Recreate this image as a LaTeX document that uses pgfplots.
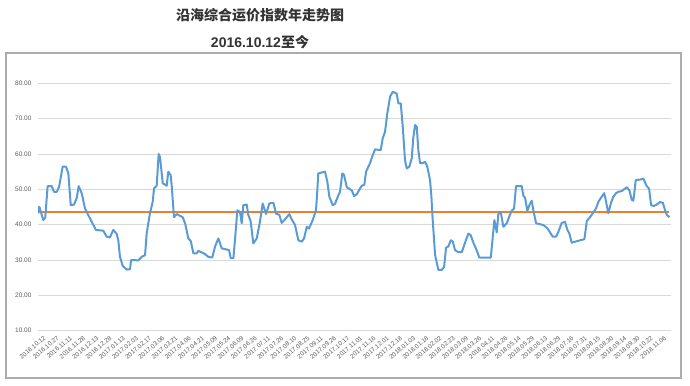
\documentclass[border=0pt]{standalone}
\usepackage{pgfplots}
\pgfplotsset{compat=1.18}
\usepackage{pgfplotstable}
\usepackage{fontspec}
\setmainfont{Liberation Sans}
\newfontfamily\cjk{Noto Sans CJK SC}
\definecolor{lineblue}{RGB}{91,155,213}
\definecolor{meanorange}{RGB}{237,125,49}
\definecolor{gridgray}{RGB}{217,217,217}
\definecolor{labgray}{RGB}{89,89,89}
\definecolor{titlegray}{RGB}{51,51,51}

\pgfplotstableread{
x v
0.00 43.2
0.10 45.1
0.40 41.3
0.55 42.0
0.73 50.9
1.04 50.9
1.21 49.3
1.42 49.3
1.59 50.6
1.87 56.4
2.12 56.4
2.30 54.5
2.48 45.5
2.73 45.7
2.93 47.5
3.08 50.9
3.31 48.9
3.56 44.6
3.81 42.7
4.07 40.8
4.39 38.5
4.95 38.3
5.20 36.6
5.45 36.4
5.70 38.5
5.96 37.4
6.08 35.6
6.21 30.9
6.42 28.3
6.72 27.3
6.97 27.4
7.05 30.0
7.60 29.9
7.86 30.9
8.11 31.4
8.23 37.5
8.48 43.2
8.69 46.5
8.79 50.3
8.99 51.0
9.14 60.0
9.24 59.2
9.45 51.7
9.75 51.0
9.87 55.0
10.05 54.0
10.13 51.0
10.30 42.1
10.51 43.0
10.96 42.1
11.14 40.4
11.39 36.1
11.57 35.4
11.77 31.9
12.02 31.9
12.14 32.6
12.65 31.7
12.90 30.9
13.20 30.7
13.41 33.8
13.66 36.1
13.92 33.3
14.47 32.8
14.60 30.5
14.80 30.5
14.92 35.6
15.10 44.1
15.30 43.6
15.43 40.4
15.55 45.5
15.81 45.7
15.93 42.8
16.11 40.9
16.31 34.7
16.57 36.1
16.82 41.0
17.02 46.0
17.27 43.0
17.52 46.0
17.83 46.2
18.03 43.1
18.28 42.8
18.46 40.5
18.71 41.5
19.04 43.0
19.22 41.5
19.47 39.9
19.72 35.6
19.98 35.2
20.15 36.1
20.36 39.4
20.53 38.9
20.81 41.3
21.06 44.1
21.16 49.8
21.23 54.5
21.74 55.0
21.92 52.1
22.07 47.9
22.33 45.5
22.50 45.9
22.75 48.3
22.88 49.3
23.05 54.5
23.18 54.1
23.39 50.6
23.77 49.7
23.94 48.1
24.14 48.6
24.52 51.0
24.72 51.3
24.85 55.0
25.15 57.4
25.36 59.7
25.53 61.3
25.96 61.1
26.11 64.4
26.29 66.3
26.46 71.5
26.67 76.2
26.87 77.6
27.17 77.1
27.30 74.3
27.48 74.3
27.63 67.7
27.80 58.3
27.93 55.9
28.13 56.4
28.31 58.8
28.43 64.6
28.56 68.2
28.69 67.7
28.81 61.1
28.94 57.4
29.14 57.4
29.32 57.8
29.49 56.4
29.70 52.5
29.80 48.0
29.87 43.0
30.08 31.4
30.33 27.2
30.58 27.2
30.76 28.0
30.91 33.5
31.08 33.8
31.27 35.6
31.42 35.2
31.59 32.8
31.84 32.2
32.10 32.2
32.35 34.9
32.60 37.5
32.78 37.0
32.98 34.9
33.18 33.2
33.43 30.7
34.30 30.7
34.45 36.6
34.57 41.3
34.75 37.8
34.87 43.0
35.05 43.6
35.25 39.4
35.51 40.4
35.70 42.3
35.89 44.0
36.06 44.5
36.21 50.9
36.64 50.9
36.77 48.1
36.89 47.7
37.07 43.9
37.22 45.5
37.40 46.8
37.52 44.1
37.73 40.4
38.28 39.9
38.58 39.0
38.79 37.8
38.99 36.6
39.24 36.6
39.42 38.0
39.67 40.5
39.92 40.8
40.10 38.5
40.25 37.5
40.43 34.9
40.89 35.4
41.39 35.9
41.57 41.0
41.77 41.9
42.02 43.2
42.27 44.6
42.45 46.5
42.70 47.9
42.88 48.9
42.98 47.5
43.20 43.2
43.39 46.0
43.58 47.9
43.79 48.9
43.96 49.3
44.22 49.5
44.60 50.6
44.80 49.7
44.98 47.0
45.10 46.8
45.28 52.6
45.66 52.8
45.86 53.0
46.11 50.9
46.29 50.2
46.44 45.5
46.67 45.3
46.87 45.7
47.12 46.4
47.33 46.2
47.50 44.1
47.63 42.8
47.83 42.1
}\datatable

\pgfplotstableread{
x v
0.00 43.7
23.00 43.7
47.83 43.7
}\meantable

\begin{document}
\begin{tikzpicture}
\path (0,0) rectangle (690bp,386bp);
\draw[gray!65, line width=1.2bp] (6bp,8bp) rectangle (681bp,333bp);
\node[font=\cjk\bfseries\fontsize{14bp}{16bp}\selectfont, text=titlegray] at (260bp,370.5bp) {沿海综合运价指数年走势图};
\node[font=\fontsize{14bp}{16bp}\selectfont, text=titlegray] at (260bp,344.3bp) {\textbf{2016.10.12}{\cjk\bfseries 至今}};
\begin{axis}[
  at={(38bp,55.3bp)}, anchor=south west,
  scale only axis,
  width=633bp, height=247.4bp,
  xmin=0, xmax=47.95,
  ymin=10, ymax=80,
  axis line style={draw=none},
  ytick={10,20,...,80},
  ymajorgrids,
  grid style={gridgray, line width=0.9bp},
  major tick length=0pt,
  xtick={0,...,47},
  xticklabels={2016.10.12,2016.10.27,2016.11.11,2016.11.28,2016.12.13,2016.12.28,2017.01.13,2017.02.03,2017.02.17,2017.03.06,2017.03.21,2017.04.06,2017.04.21,2017.05.09,2017.05.24,2017.06.09,2017.06.26,2017.07.11,2017.07.26,2017.08.10,2017.08.25,2017.09.11,2017.09.26,2017.10.17,2017.11.01,2017.11.16,2017.12.01,2017.12.18,2018.01.03,2018.01.18,2018.02.02,2018.02.23,2018.03.09,2018.03.26,2018.04.11,2018.04.26,2018.05.14,2018.05.29,2018.06.13,2018.06.29,2018.07.16,2018.07.31,2018.08.15,2018.08.30,2018.09.14,2018.09.30,2018.10.22,2018.11.06},
  xticklabel style={font=\fontsize{6.3bp}{7bp}\selectfont, text=labgray, rotate=40, anchor=north east, inner sep=1bp, yshift=-6bp, xshift=2bp},
  yticklabel style={font=\fontsize{6.5bp}{7bp}\selectfont, text=labgray, anchor=east, xshift=-3bp,
    /pgf/number format/.cd, fixed, fixed zerofill, precision=2, assume math mode=true},
  scaled y ticks=false,
]
\addplot[color=meanorange, line width=2.0bp, mark=none, solid] table[x=x, y=v] {\meantable};
\addplot[color=lineblue, line width=2bp, line join=round, mark=none, solid] table[x=x, y=v] {\datatable};
\end{axis}
\end{tikzpicture}
\end{document}
